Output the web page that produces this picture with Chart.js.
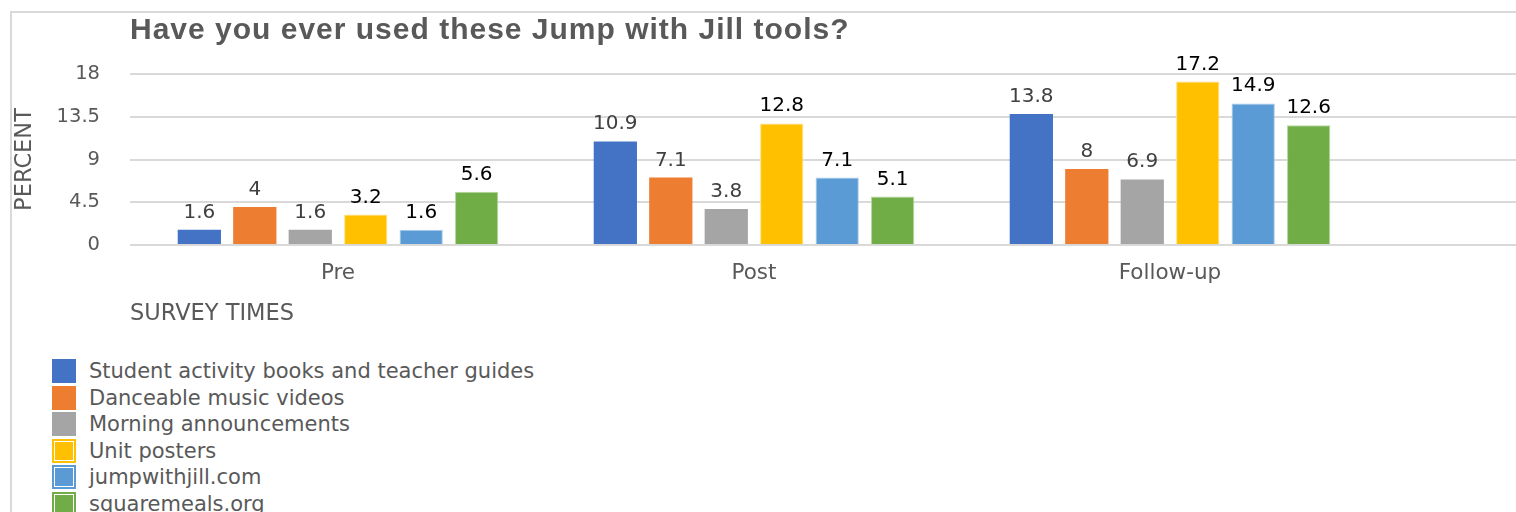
<!DOCTYPE html>
<html>
<head>
<meta charset="utf-8">
<script src="https://cdn.jsdelivr.net/npm/chart.js@4"></script>
<style>
  body { margin: 0; background: #fff; overflow: hidden; }
  #frame { position: absolute; left: 10px; top: 11px; width: 2000px; height: 1000px;
    border-left: 2px solid #d9d9d9; border-top: 2px solid #d9d9d9; }
  #chart-tools { position: absolute; left: 0; top: 0; }
  #legend-tools { position: absolute; left: 52px; top: 358px; margin: 0; padding: 0; list-style: none;
    font-family: 'DejaVu Sans', sans-serif; font-size: 21px; color: #595959; }
  #legend-tools li { display: flex; align-items: center; height: 26.5px; white-space: nowrap; }
  #legend-tools .box { width: 24px; height: 24px; margin-right: 13px; box-sizing: border-box; flex: none; }
</style>
</head>
<body>
<div id="frame"></div>
<canvas id="chart-tools" width="1800" height="340"></canvas>
<ul id="legend-tools"></ul>
<script>
// survey times (4th slot left empty, the plot runs on past the crop)
const labelsTimes = ["Pre", "Post", "Follow-up", ""];

// percent per tool
const dataBooks = [1.6, 10.9, 13.8];
const dataVideos = [4, 7.1, 8];
const dataAnnouncements = [1.6, 3.8, 6.9];
const dataPosters = [3.2, 12.8, 17.2];
const dataWebsite = [1.6, 7.1, 14.9];
const dataSquaremeals = [5.6, 5.1, 12.6];

const yTicks = [0, 4.5, 9, 13.5, 18];

const fontMain = "'DejaVu Sans', sans-serif";

// title drawn over the plot's left edge like the excel one
const titlePlugin = {
  id: "plotTitle",
  afterDraw(chart) {
    const ctx = chart.ctx;
    ctx.save();
    ctx.font = "bold 30px 'Liberation Sans', Arial, sans-serif";
    ctx.letterSpacing = "1px";
    ctx.fillStyle = "#595959";
    ctx.textAlign = "left";
    ctx.textBaseline = "alphabetic";
    ctx.fillText("Have you ever used these Jump with Jill tools?", chart.chartArea.left, 39);
    ctx.restore();
  },
};

// value labels above each bar
const valuePlugin = {
  id: "barValues",
  afterDatasetsDraw(chart) {
    const ctx = chart.ctx;
    ctx.save();
    ctx.font = "20px " + fontMain;
    ctx.textAlign = "center";
    ctx.textBaseline = "alphabetic";
    chart.data.datasets.forEach((ds, i) => {
      const meta = chart.getDatasetMeta(i);
      meta.data.forEach((bar, j) => {
        const v = ds.data[j];
        if (v == null) return;
        ctx.fillStyle = ds.labelColor;
        ctx.fillText(String(v), bar.x, bar.y - 12);
      });
    });
    ctx.restore();
  },
};

function makeSet(label, data, color, edge, labelColor) {
  return {
    label: label,
    data: data,
    backgroundColor: color,
    borderColor: edge || color,
    borderWidth: edge ? 1 : 0,
    labelColor: labelColor,
  };
}

Chart.defaults.font.family = fontMain;
Chart.defaults.font.size = 19;
Chart.defaults.color = "#595959";

const ctxTools = document.getElementById("chart-tools");
const chartTools = new Chart(ctxTools, {
  type: "bar",
  data: {
    labels: labelsTimes,
    datasets: [
      makeSet("Student activity books and teacher guides", dataBooks, "#4472C4", null, "#404040"),
      makeSet("Danceable music videos", dataVideos, "#ED7D31", null, "#404040"),
      makeSet("Morning announcements", dataAnnouncements, "#A5A5A5", null, "#404040"),
      makeSet("Unit posters", dataPosters, "#FFC000", "#FFE08A", "#000000"),
      makeSet("jumpwithjill.com", dataWebsite, "#5B9BD5", "#A9CBEA", "#000000"),
      makeSet("squaremeals.org", dataSquaremeals, "#70AD47", "#B3D79B", "#000000"),
    ],
  },
  options: {
    responsive: false,
    animation: false,
    layout: { padding: { top: 74, right: 6, left: 0, bottom: 0 } },
    datasets: {
      bar: { categoryPercentage: 0.8, barPercentage: 0.78 },
    },
    plugins: {
      legend: { display: false },
      tooltip: { enabled: false },
    },
    scales: {
      x: {
        afterFit(scale) {
          scale.height = 95;
        },
        grid: { display: false, drawTicks: false },
        border: { display: false },
        ticks: { padding: 16, color: "#595959", font: { size: 21.5 } },
        title: {
          display: true,
          text: "SURVEY TIMES",
          align: "start",
          color: "#595959",
          font: { size: 22.5 },
          padding: { top: 16, bottom: 12 },
        },
      },
      y: {
        min: 0,
        max: 18,
        afterFit(scale) {
          scale.width = 130;
        },
        afterBuildTicks(scale) {
          scale.ticks = yTicks.map((v) => ({ value: v }));
        },
        grid: { color: "#d9d9d9", lineWidth: 2, drawTicks: false },
        border: { display: false },
        ticks: { padding: 30, color: "#595959", font: { size: 19.5 } },
        title: {
          display: true,
          text: "PERCENT",
          color: "#595959",
          font: { size: 22.5 },
          padding: { top: 12, bottom: 0 },
        },
      },
    },
  },
  plugins: [titlePlugin, valuePlugin],
});

// legend as a plain list, one tool per row
const legendList = document.getElementById("legend-tools");
chartTools.data.datasets.forEach((ds) => {
  const li = document.createElement("li");
  const box = document.createElement("span");
  box.className = "box";
  if (ds.borderWidth) {
    box.style.border = "2px solid " + ds.backgroundColor;
    box.style.padding = "1px";
    box.style.background = ds.backgroundColor;
    box.style.backgroundClip = "content-box";
  } else {
    box.style.background = ds.backgroundColor;
  }
  li.appendChild(box);
  li.appendChild(document.createTextNode(ds.label));
  legendList.appendChild(li);
});
</script>
</body>
</html>
